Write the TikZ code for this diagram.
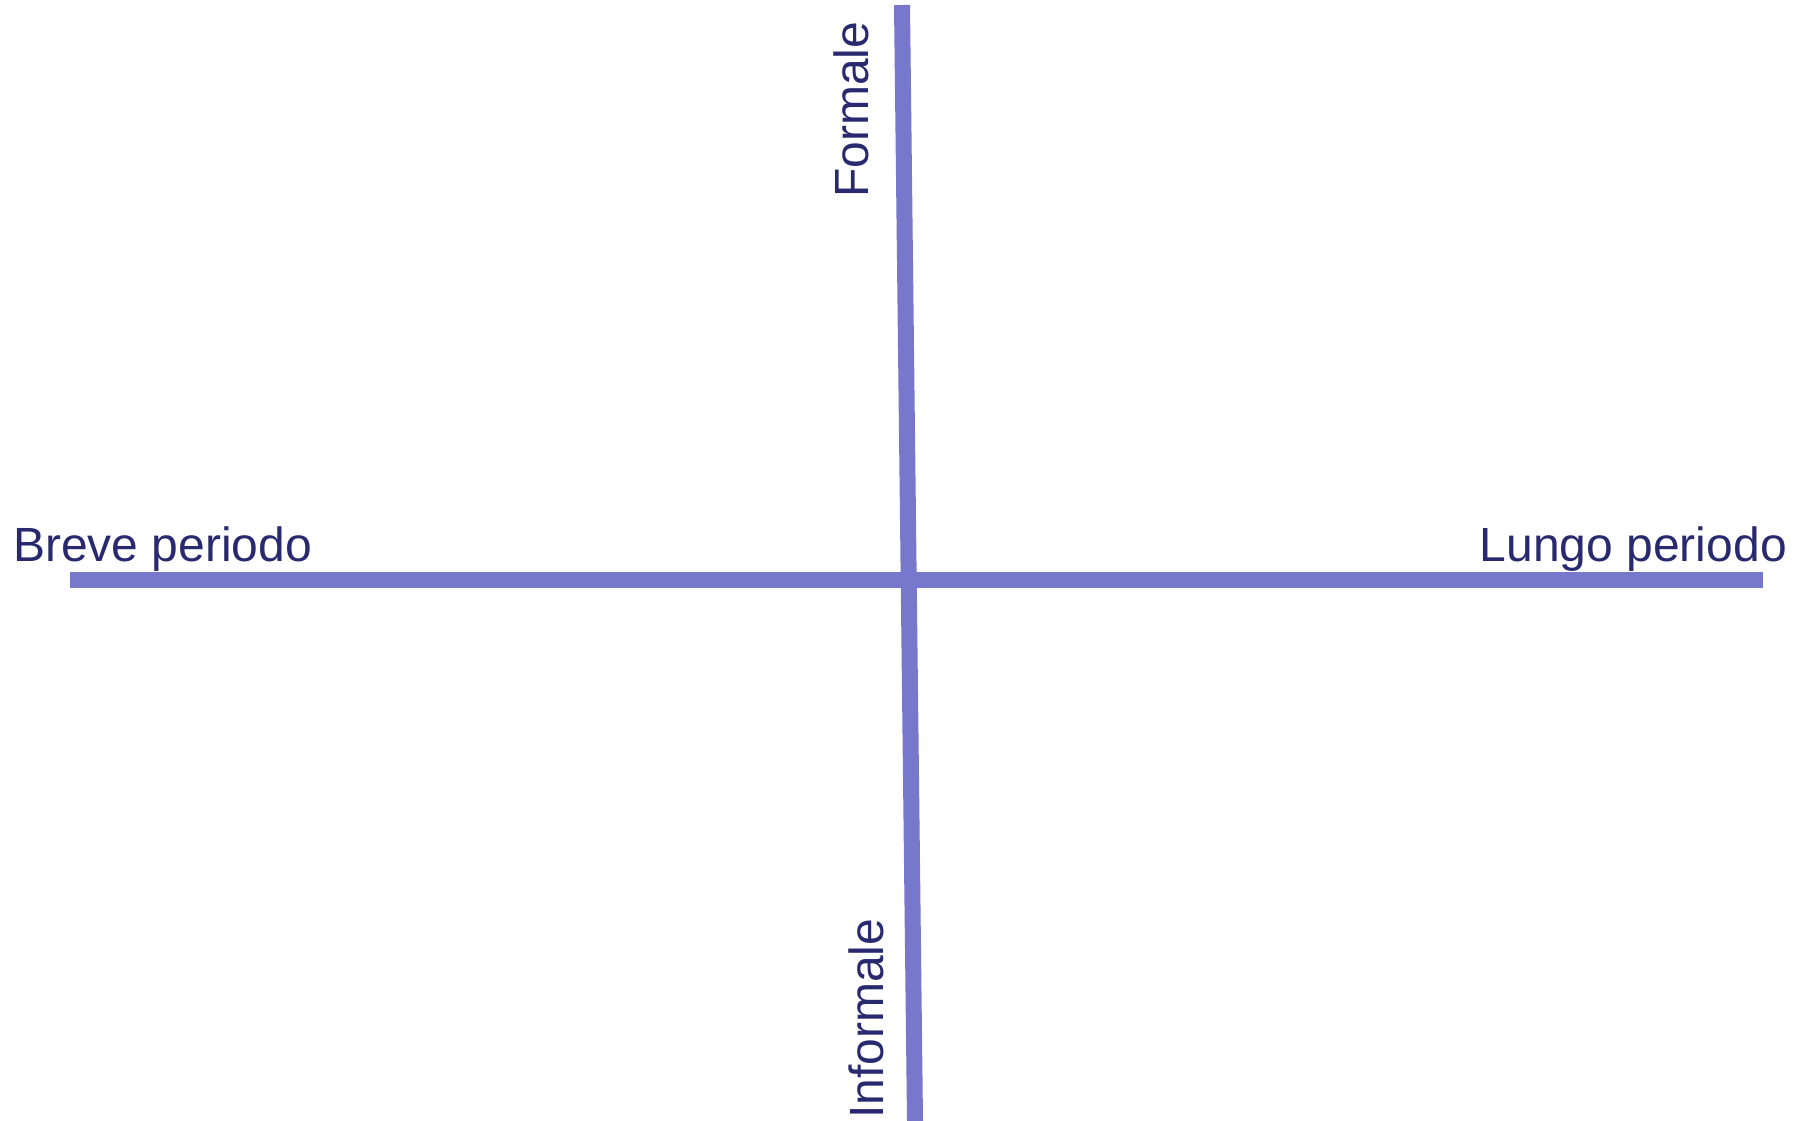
\documentclass[tikz,border=0pt]{standalone}
\usepackage{fontspec}
\setmainfont{Liberation Sans}
\definecolor{axisblue}{HTML}{7777CC}
\definecolor{labelnavy}{HTML}{29296F}
\tikzset{
  axisline/.style={draw=axisblue, line width=16pt},
  axislabel/.style={text=labelnavy, inner sep=0pt, font=\fontsize{48}{56}\selectfont}
}
\begin{document}
\begin{tikzpicture}[x=1pt, y=-1pt]
\useasboundingbox (0,0) rectangle (1806,1121);
\coordinate (left) at (70,580);
\coordinate (right) at (1763,580);
\coordinate (top) at (902,5);
\coordinate (bottom) at (915,1121);
\draw[axisline] (left) -- (right);
\draw[axisline] (top) -- (bottom);
\node[axislabel, anchor=base west] (breve) at (13,561) {Breve periodo};
\node[axislabel, anchor=base east] (lungo) at (1787,561) {Lungo periodo};
\node[axislabel, anchor=base west, rotate=90] (formale) at (868,198) {Formale};
\node[axislabel, anchor=base west, rotate=90] (informale) at (883,1119) {Informale};
\end{tikzpicture}
\end{document}
